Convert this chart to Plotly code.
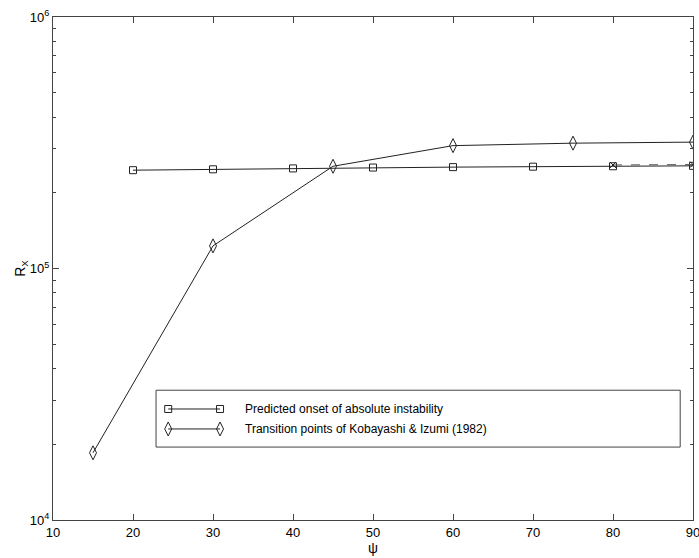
import plotly.graph_objects as go

# ---- data ----
psi_pred = [20, 30, 40, 50, 60, 70, 80, 90]
rx_pred = [2.46e5, 2.48e5, 2.50e5, 2.52e5, 2.53e5, 2.54e5, 2.55e5, 2.56e5]

psi_kob = [15, 30, 45, 60, 75, 90]
rx_kob = [1.85e4, 1.23e5, 2.55e5, 3.08e5, 3.15e5, 3.18e5]

psi_extra = [80, 90]
rx_extra = [2.58e5, 2.59e5]

legend_labels = ["Predicted onset of absolute instability",
                 "Transition points of Kobayashi & Izumi (1982)"]

x_ticks = [10, 20, 30, 40, 50, 60, 70, 80, 90]
y_major = [1e4, 1e5, 1e6]
y_major_text = ["10<sup>4</sup>", "10<sup>5</sup>", "10<sup>6</sup>"]
y_minor = [m * 10 ** e for e in (4, 5) for m in range(2, 10)]

LC = "#222222"
AX = "#444444"
FONT = "Liberation Sans, Arial, Helvetica, sans-serif"
SQ = ("square-open", 7)
DI = ("diamond-tall-open", 10)

fig = go.Figure()

fig.add_trace(go.Scatter(
    x=psi_pred, y=rx_pred, mode="lines+markers",
    line=dict(color=LC, width=1),
    marker=dict(symbol=SQ[0], size=SQ[1], color=LC, line=dict(width=1)),
    showlegend=False))

fig.add_trace(go.Scatter(
    x=psi_kob, y=rx_kob, mode="lines+markers",
    line=dict(color=LC, width=1),
    marker=dict(symbol=DI[0], size=DI[1], color=LC, line=dict(width=1)),
    showlegend=False))

fig.add_trace(go.Scatter(
    x=psi_extra, y=rx_extra, mode="lines+markers",
    line=dict(color="#555555", width=1, dash="dash"),
    marker=dict(symbol="x-thin-open", size=6, color=LC, line=dict(width=1)),
    showlegend=False))

# ---- custom MATLAB-style legend (overlay axes in 0..1) ----
leg_x0, leg_x1 = 0.161, 0.98
leg_y0, leg_y1 = 0.145, 0.258
row_y = [0.2207, 0.181]
seg_x = [0.180, 0.261]
txt_x = 0.297

fig.add_shape(type="rect", xref="paper", yref="paper",
              x0=leg_x0, x1=leg_x1, y0=leg_y0, y1=leg_y1,
              line=dict(color=AX, width=1), layer="below")

for (sym, sz), yy, lab in zip([SQ, DI], row_y, legend_labels):
    fig.add_trace(go.Scatter(
        x=seg_x, y=[yy, yy], xaxis="x2", yaxis="y2", mode="lines+markers",
        line=dict(color=LC, width=1),
        marker=dict(symbol=sym, size=sz, color=LC, line=dict(width=1)),
        showlegend=False, hoverinfo="skip"))
    fig.add_annotation(xref="paper", yref="paper", x=txt_x, y=yy,
                       xanchor="left", yanchor="middle", text=lab,
                       showarrow=False, font=dict(size=12, color="black", family=FONT))

fig.update_layout(
    width=699, height=558,
    margin=dict(l=53, r=6, t=17, b=38, autoexpand=False),
    paper_bgcolor="white", plot_bgcolor="white",
    font=dict(family=FONT, size=13, color="black"),
    showlegend=False,
    xaxis=dict(
        range=[10, 90], tickvals=x_ticks, ticks="inside", ticklen=6,
        tickcolor=AX, showline=True, linecolor=AX, linewidth=1,
        mirror="allticks", showgrid=False, zeroline=False,
        ticklabeloverflow="allow", automargin=False,
        title=dict(text="ψ", standoff=2, font=dict(size=14)),
        tickfont=dict(size=13)),
    yaxis=dict(
        type="log", range=[4, 6], tickvals=y_major, ticktext=y_major_text,
        ticks="inside", ticklen=6, tickcolor=AX,
        showline=True, linecolor=AX, linewidth=1, mirror="allticks",
        showgrid=False, zeroline=False, ticklabeloverflow="allow",
        automargin=False,
        minor=dict(tickvals=y_minor, ticks="inside", ticklen=3, tickcolor=AX),
        title=dict(text="R<sub>X</sub>", standoff=0, font=dict(size=14)),
        tickfont=dict(size=13)),
    xaxis2=dict(range=[0, 1], overlaying="x", visible=False, fixedrange=True),
    yaxis2=dict(range=[0, 1], overlaying="y", visible=False, fixedrange=True),
)

fig.write_html("out.html")
